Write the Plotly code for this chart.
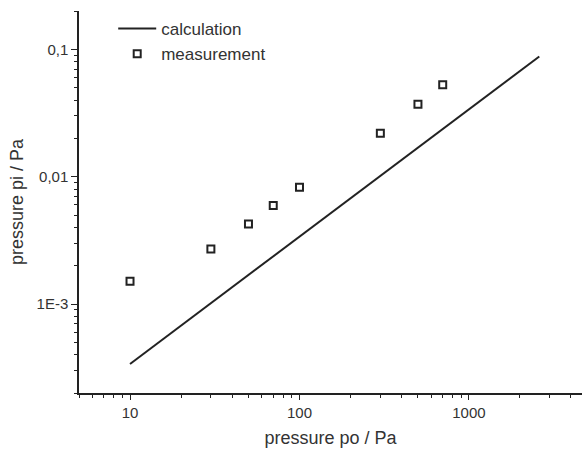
import numpy as np
import plotly.graph_objects as go

calc_x = [10, 2600]
calc_y = [3.38e-4, 0.0879]

meas_x = [10, 30, 50, 70, 100, 300, 500, 700]
meas_y = [1.51e-3, 2.70e-3, 4.25e-3, 5.95e-3, 8.24e-3, 0.0219, 0.037, 0.0528]

x_ticks = [10, 100, 1000]
x_ticktext = ["10", "100", "1000"]
y_ticks = [1e-3, 1e-2, 1e-1]
y_ticktext = ["1E-3", "0,01", "0,1"]

x_minor = [m * 10 ** e for e in range(0, 4) for m in range(2, 10)]
y_minor = [m * 10 ** e for e in range(-4, 0) for m in range(2, 10)]

fig = go.Figure()
fig.add_trace(go.Scatter(x=calc_x, y=calc_y, mode="lines", name="calculation",
                         line=dict(color="#222", width=2)))
fig.add_trace(go.Scatter(x=meas_x, y=meas_y, mode="markers", name="measurement",
                         marker=dict(symbol="square-open", size=7, color="#222",
                                     line=dict(width=2, color="#222"))))

fam = "Liberation Sans, Arial, sans-serif"
fig.update_layout(
    width=582, height=451,
    margin=dict(l=79, r=0, t=11, b=58),
    paper_bgcolor="white", plot_bgcolor="white",
    font=dict(family=fam, size=15, color="#333"),
    legend=dict(x=0.068, y=1.0, xanchor="left", yanchor="top",
                bgcolor="rgba(0,0,0,0)", font=dict(size=17, color="#333"),
                itemwidth=38, tracegroupgap=0),
    showlegend=True,
)
fig.update_xaxes(type="log", range=[np.log10(5), 3.667],
                 showline=True, linecolor="#222", linewidth=1.5,
                 showgrid=False, zeroline=False,
                 tickmode="array", tickvals=x_ticks, ticktext=x_ticktext,
                 ticks="outside", ticklen=5, tickwidth=1.2, tickcolor="#222",
                 minor=dict(tickmode="array", tickvals=x_minor, ticks="outside",
                            ticklen=3, tickwidth=1.2, tickcolor="#222", showgrid=False),
                 tickfont=dict(family=fam, size=15, color="#333"),
                 title=dict(text="pressure po / Pa", font=dict(family=fam, size=18, color="#333"), standoff=12))
fig.update_yaxes(type="log", range=[np.log10(2e-4), np.log10(0.2)],
                 showline=True, linecolor="#222", linewidth=1.5,
                 showgrid=False, zeroline=False,
                 tickmode="array", tickvals=y_ticks, ticktext=y_ticktext,
                 ticks="outside", ticklen=6, tickwidth=1.2, tickcolor="#222",
                 minor=dict(tickmode="array", tickvals=y_minor, ticks="outside",
                            ticklen=3, tickwidth=1.2, tickcolor="#222", showgrid=False),
                 tickfont=dict(family=fam, size=15, color="#333"),
                 title=dict(text="pressure pi / Pa", font=dict(family=fam, size=18, color="#333"), standoff=8))

fig.write_html("out.html")
